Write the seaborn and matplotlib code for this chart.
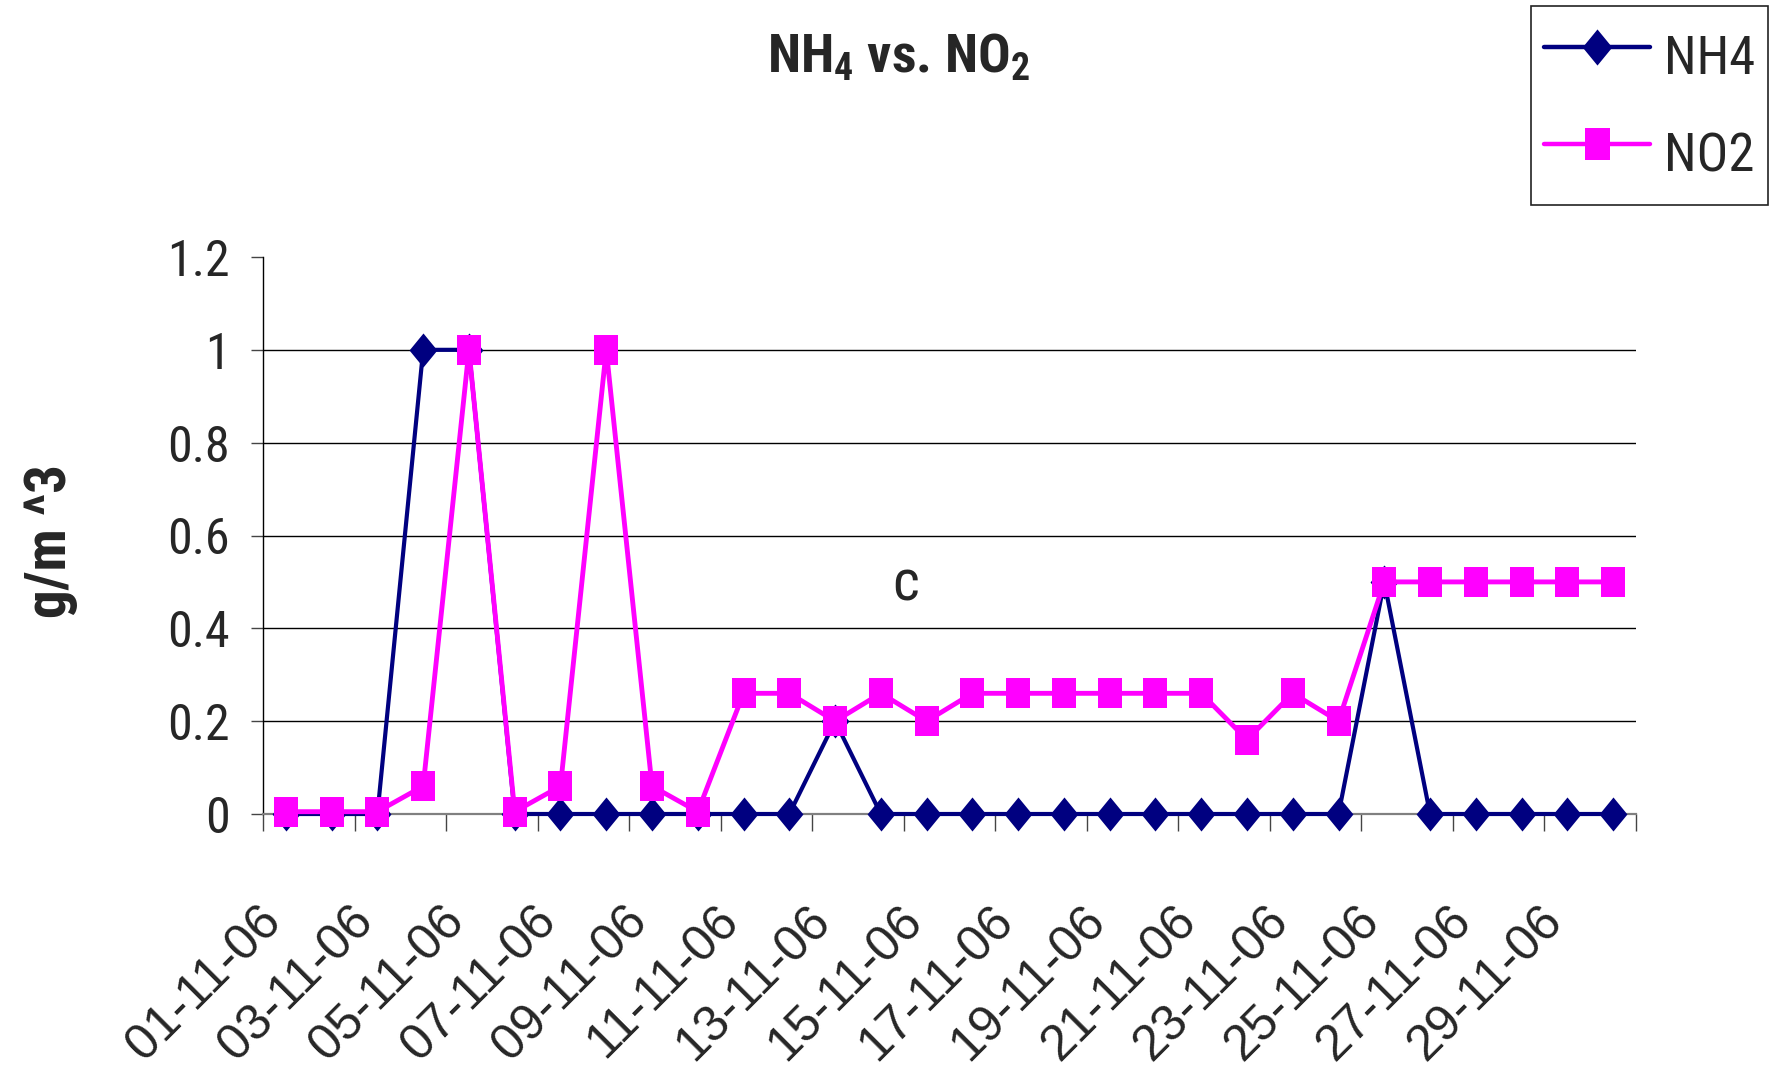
import os
import matplotlib
matplotlib.use("Agg")
import matplotlib.pyplot as plt
import matplotlib.transforms as mtransforms
import seaborn as sns
import pandas as pd
import numpy as np
from matplotlib.lines import Line2D
from matplotlib import font_manager
from matplotlib.font_manager import FontProperties

# ---------------- data ----------------
dates = ["01-11-06", "02-11-06", "03-11-06", "04-11-06", "05-11-06", "06-11-06",
         "07-11-06", "08-11-06", "09-11-06", "10-11-06", "11-11-06", "12-11-06",
         "13-11-06", "14-11-06", "15-11-06", "16-11-06", "17-11-06", "18-11-06",
         "19-11-06", "20-11-06", "21-11-06", "22-11-06", "23-11-06", "24-11-06",
         "25-11-06", "26-11-06", "27-11-06", "28-11-06", "29-11-06", "30-11-06"]
nh4 = [0, 0, 0, 1.0, 1.0, 0, 0, 0, 0, 0, 0, 0, 0.2, 0, 0, 0, 0, 0, 0, 0,
       0, 0, 0, 0, 0.5, 0, 0, 0, 0, 0]
no2 = [0.005, 0.005, 0.005, 0.06, 1.0, 0.005, 0.06, 1.0, 0.06, 0.005,
       0.26, 0.26, 0.2, 0.26, 0.2, 0.26, 0.26, 0.26, 0.26, 0.26,
       0.26, 0.16, 0.26, 0.2, 0.5, 0.5, 0.5, 0.5, 0.5, 0.5]
series_names = ["NH4", "NO2"]
y_ticks = [0, 0.2, 0.4, 0.6, 0.8, 1.0, 1.2]
y_tick_labels = ["0", "0.2", "0.4", "0.6", "0.8", "1", "1.2"]
title_text = "NH$_4$ vs. NO$_2$"
y_label = "g/m ^3"
note_text = "c"

# ---------------- fonts ----------------
sns.set_style("white")
plt.rcParams["font.family"] = ["Liberation Sans", "DejaVu Sans"]
plt.rcParams["mathtext.default"] = "regular"


def pick_condensed(bold):
    prefs = ["liberation sans narrow", "arial narrow", "roboto condensed",
             "open sans condensed", "noto sans", "dejavu sans", "roboto", "open sans"]
    cands = []
    for f in font_manager.fontManager.ttflist:
        nm = f.name.lower()
        fn = os.path.basename(f.fname).lower()
        cond = ("narrow" in nm or "condensed" in nm or "narrow" in fn
                or "condensed" in fn or str(f.stretch) == "condensed")
        if not cond:
            continue
        if "italic" in fn or "oblique" in fn or f.style != "normal":
            continue
        if any(k in fn for k in ["semi", "light", "thin", "black", "medium",
                                 "extrabold", "heavy"]):
            continue
        w = f.weight if isinstance(f.weight, int) else (700 if "bold" in str(f.weight) else 400)
        isbold = w >= 600 or "bold" in fn
        if isbold != bold:
            continue
        rank = next((i for i, p in enumerate(prefs) if nm.startswith(p)), len(prefs))
        extra = 1 if ("extra" in fn or "ultra" in fn) else 0
        cands.append((rank, extra, fn, f.fname))
    cands.sort()
    return cands[0][3] if cands else None


reg_file = pick_condensed(False)
bold_file = pick_condensed(True)
FW = 1.0 if reg_file else 0.86


def fp(size, bold=False):
    f = bold_file if bold else reg_file
    if f:
        p = FontProperties(fname=f)
    else:
        p = FontProperties(family=["Liberation Sans", "DejaVu Sans"],
                           weight="bold" if bold else "normal")
    p.set_size(size)
    return p


C_NH4 = "#000080"
C_NO2 = "#FF00FF"

diamond = [(0, 1), (0.82, 0), (0, -1), (-0.82, 0), (0, 1)]
square = [(-0.8, -1), (0.8, -1), (0.8, 1), (-0.8, 1), (-0.8, -1)]

W, H = 1776, 1067
fig = plt.figure(figsize=(W / 100, H / 100), dpi=100)
ax = fig.add_axes([263 / W, 1 - 814 / H, (1636 - 263) / W, (814 - 257) / H])

idx = np.arange(len(dates))
df = pd.DataFrame({"idx": idx, "NH4": nh4, "NO2": no2})

sns.lineplot(data=df, x="idx", y="NH4", ax=ax, color=C_NH4, marker=diamond,
             markersize=24.5, markeredgewidth=0, linewidth=3.0, clip_on=False,
             zorder=3, legend=False)
sns.lineplot(data=df, x="idx", y="NO2", ax=ax, color=C_NO2, marker=square,
             markersize=22.0, markeredgewidth=0, linewidth=3.5, clip_on=False,
             zorder=4, legend=False)

ax.set_xlim(-0.5, len(dates) - 0.5)
ax.set_ylim(0, 1.2)
ax.set_yticks(y_ticks)
ax.set_yticklabels(y_tick_labels, fontproperties=fp(36 * FW))
ax.set_xticks(idx[::2])
ax.set_xticklabels(dates[::2])
ax.set_xticks(np.arange(-0.5, len(dates), 2), minor=True)
ax.set_xlabel("")
ax.set_ylabel("")

ax.yaxis.grid(True, color="black", linewidth=1.0)
ax.set_axisbelow(True)
ax.get_ygridlines()[-1].set_visible(False)
ax.get_ygridlines()[0].set_visible(False)

for s in ["top", "right"]:
    ax.spines[s].set_visible(False)
ax.spines["left"].set_color("black")
ax.spines["left"].set_linewidth(1.0)
ax.spines["bottom"].set_color("#808080")
ax.spines["bottom"].set_linewidth(1.6)

ax.tick_params(axis="y", direction="out", length=9, width=1, color="#444444",
               pad=15, left=True)
ax.tick_params(axis="x", which="major", length=0, pad=60)
ax.tick_params(axis="x", which="minor", direction="out", length=12, width=1,
               color="#444444", bottom=True)
shift = mtransforms.ScaledTranslation(-28 / 100, 0, fig.dpi_scale_trans)
for lab in ax.get_xticklabels():
    lab.set_rotation(45)
    lab.set_ha("right")
    lab.set_va("top")
    lab.set_rotation_mode("anchor")
    lab.set_fontsize(36)
    lab.set_family(["Liberation Sans", "DejaVu Sans"])
    lab.set_transform(lab.get_transform() + shift)

ax.text(13.55, 0.493, note_text, ha="center", va="center",
        fontproperties=fp(42 * FW))

fig.text(898 / W, 1 - 73 / H, title_text, ha="center", va="baseline",
         fontproperties=fp(39 * FW, bold=True))
fig.text(50 / W, 1 - 541 / H, y_label, rotation=90, ha="center", va="center",
         fontproperties=fp(41 * FW, bold=True))

# legend
lfs = 38 * FW
bp = 0.25
row_h = 2 * (36.7 - bp * lfs)            # desired row height in points
hh = (row_h / lfs - 0.245) / 0.65         # matplotlib's handle-box height rule
handles = [
    Line2D([], [], color=C_NH4, marker=diamond, markersize=26, markeredgewidth=0,
           linewidth=3.2),
    Line2D([], [], color=C_NO2, marker=square, markersize=22.5, markeredgewidth=0,
           linewidth=3.2),
]
leg = ax.legend(handles, series_names, loc="upper right",
                bbox_to_anchor=(1768 / W, 1 - 6 / H), bbox_transform=fig.transFigure,
                borderaxespad=0, prop=fp(lfs), frameon=True, fancybox=False,
                edgecolor="#222222", framealpha=1, handlelength=76 / lfs,
                handleheight=hh, handletextpad=10 / lfs,
                labelspacing=(70 - row_h) / lfs, borderpad=bp)
leg.get_frame().set_linewidth(1.2)

fig.savefig("out.png", dpi=100)
